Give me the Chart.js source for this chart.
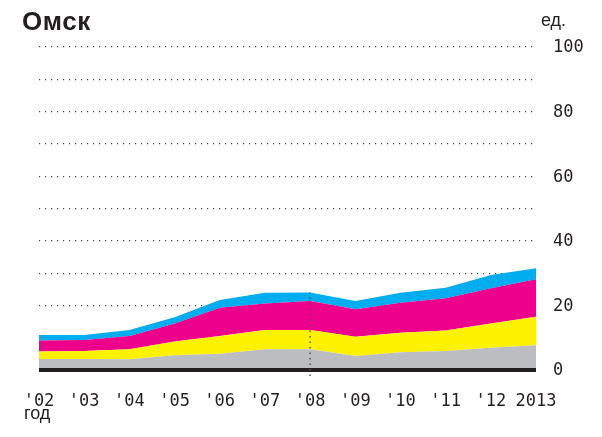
<!DOCTYPE html>
<html>
<head>
<meta charset="utf-8">
<script src="https://cdn.jsdelivr.net/npm/chart.js@4/dist/chart.umd.min.js"></script>
<style>
  html, body { margin: 0; padding: 0; background: #fff; }
  #wrap { position: relative; width: 602px; height: 437px; }
  .lbl { position: absolute; color: #231f20; font-family: "Liberation Sans", Arial, sans-serif; }
  #title { left: 22px; top: 6px; font-size: 26px; font-weight: bold; letter-spacing: 0.6px; }
  #unit { left: 541px; top: 10px; font-size: 18px; }
  #year { left: 24px; top: 403px; font-size: 18px; }
</style>
</head>
<body>
<div id="wrap">
  <canvas id="chart" width="602" height="437"></canvas>
  <div class="lbl" id="title">Омск</div>
  <div class="lbl" id="unit">ед.</div>
  <div class="lbl" id="year">год</div>
</div>
<script>
// Омск: составной график по годам
const years = ["'02", "'03", "'04", "'05", "'06", "'07", "'08", "'09", "'10", "'11", "'12", "2013"];
const graySeries = [3.4, 3.4, 3.3, 4.6, 5.0, 6.4, 6.4, 4.3, 5.5, 5.9, 6.9, 7.7];
const yellowSeries = [2.3, 2.5, 3.1, 4.2, 5.5, 6.0, 6.0, 6.0, 6.0, 6.3, 7.5, 8.8];
const magentaSeries = [3.4, 3.4, 4.1, 5.6, 8.8, 8.2, 9.0, 8.5, 9.3, 10.0, 10.9, 11.6];
const cyanSeries = [1.7, 1.5, 1.9, 1.9, 2.4, 3.3, 2.6, 2.6, 3.1, 3.3, 4.1, 3.4];
const yTicks = [0, 20, 40, 60, 80, 100];
const markedYear = "'08";

const ink = '#231f20';
const tickFont = { family: '"DejaVu Sans Mono", monospace', size: 17 };

function layer(data, color, fill) {
    return {
        data: data,
        backgroundColor: color,
        borderColor: color,
        borderWidth: 0,
        pointRadius: 0,
        tension: 0,
        fill: fill
    };
}

// чёрная базовая линия и пунктирная вертикаль на отмеченном году
const overlay = {
    id: 'overlay',
    afterDatasetsDraw(chart) {
        const area = chart.chartArea;
        const i = years.indexOf(markedYear);
        const x = chart.scales.x.getPixelForValue(i);
        const total = graySeries[i] + yellowSeries[i] + magentaSeries[i] + cyanSeries[i];
        const y0 = chart.scales.y.getPixelForValue(0);
        const y1 = chart.scales.y.getPixelForValue(total);
        const ctx = chart.ctx;
        ctx.save();
        ctx.fillStyle = ink;
        ctx.fillRect(area.left, y0 - 2, area.right - area.left, 4);
        ctx.strokeStyle = '#555';
        ctx.lineWidth = 1.5;
        ctx.setLineDash([1.5, 4]);
        ctx.beginPath();
        ctx.moveTo(x, y0 + 6);
        ctx.lineTo(x, y1);
        ctx.stroke();
        ctx.restore();
    }
};

new Chart(document.getElementById('chart'), {
    type: 'line',
    data: {
        labels: years,
        datasets: [
            layer(graySeries, '#bcbdc0', 'origin'),
            layer(yellowSeries, '#fff200', '-1'),
            layer(magentaSeries, '#ec008c', '-1'),
            layer(cyanSeries, '#00aeef', '-1')
        ]
    },
    options: {
        responsive: false,
        animation: false,
        layout: { padding: { left: 39, top: 47, right: 0, bottom: 0 } },
        plugins: { legend: { display: false }, tooltip: { enabled: false } },
        scales: {
            x: {
                offset: false,
                grid: { display: false, drawTicks: false },
                border: { display: false },
                ticks: { color: ink, font: tickFont, padding: 21, maxRotation: 0, autoSkip: false },
                afterFit: s => { s.height = 437 - 370; }
            },
            y: {
                position: 'right',
                stacked: true,
                min: 0,
                max: 100,
                grid: { color: '#444', lineWidth: 1.2, drawTicks: false },
                border: { display: false, dash: [1.2, 4.8] },
                ticks: {
                    stepSize: 10,
                    color: ink,
                    font: tickFont,
                    padding: 17,
                    labelOffset: 1,
                    callback: v => yTicks.includes(v) ? String(v) : ''
                },
                afterFit: s => { s.width = 602 - 536; }
            }
        }
    },
    plugins: [overlay]
});
</script>
</body>
</html>
